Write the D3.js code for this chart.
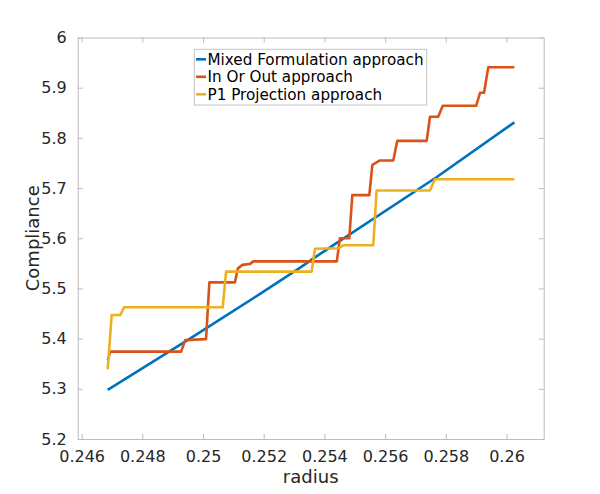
<!DOCTYPE html>
<html>
<head>
<meta charset="utf-8">
<script src="https://cdn.jsdelivr.net/npm/d3@7"></script>
<style>
  html, body { margin: 0; padding: 0; background: #fff; }
  text { font-family: "DejaVu Sans", sans-serif; }
</style>
</head>
<body>
<svg id="chart" width="600" height="494"></svg>
<script>
// ---- data ----
const seriesNames = ["Mixed Formulation approach", "In Or Out approach", "P1 Projection approach"];
const seriesColors = ["#0072BD", "#D95319", "#EDB120"];

const mixedX = [0.24686, 0.24957, 0.25188, 0.25314, 0.25386, 0.25768, 0.26026];
const mixedY = [5.298, 5.400, 5.489, 5.539, 5.569, 5.721, 5.831];

const inOutX = [0.24686, 0.24694, 0.24928, 0.24941, 0.25010, 0.25021, 0.25105, 0.25115, 0.25130, 0.25155, 0.25166,
                0.25441, 0.25451, 0.25482, 0.25492, 0.25548, 0.25558, 0.25583, 0.25627, 0.25640, 0.25737, 0.25748,
                0.25775, 0.25790, 0.25900, 0.25913, 0.25926, 0.25940, 0.26026];
const inOutY = [5.356, 5.374, 5.374, 5.397, 5.399, 5.512, 5.512, 5.540, 5.547, 5.549, 5.554,
                5.554, 5.600, 5.600, 5.686, 5.686, 5.746, 5.755, 5.755, 5.794, 5.794, 5.842,
                5.842, 5.864, 5.864, 5.890, 5.890, 5.9406, 5.9406];

const p1X = [0.24686, 0.24699, 0.24727, 0.24740, 0.25065, 0.25076, 0.25358, 0.25369, 0.25446, 0.25462,
             0.25561, 0.25572, 0.25748, 0.25764, 0.26026];
const p1Y = [5.339, 5.447, 5.447, 5.4625, 5.4625, 5.5335, 5.5335, 5.579, 5.580, 5.586,
             5.586, 5.695, 5.695, 5.7175, 5.7175];

const xTicks = [0.246, 0.248, 0.25, 0.252, 0.254, 0.256, 0.258, 0.26];
const yTicks = [5.2, 5.3, 5.4, 5.5, 5.6, 5.7, 5.8, 5.9, 6];
const xDomain = [0.245871, 0.261226];
const yDomain = [5.2, 6];

// ---- layout ----
const svg = d3.select("#chart");
const L = 77.7, R = 543.7, T = 37.5, B = 439;
const x = d3.scaleLinear().domain(xDomain).range([L, R]);
const y = d3.scaleLinear().domain(yDomain).range([B, T]);
const axisColor = "#bcbcbc";
const textColor = "#262626";
const fmt = d => String(+d.toFixed(4));

svg.append("rect").attr("width", 600).attr("height", 494).attr("fill", "#fff");

// axes with inward ticks
const tickLen = 5;
const gBottom = svg.append("g").attr("transform", `translate(0,${B})`)
  .call(d3.axisBottom(x).tickValues(xTicks).tickFormat(fmt).tickSizeInner(-tickLen).tickSizeOuter(0).tickPadding(12));
const gTop = svg.append("g").attr("transform", `translate(0,${T})`)
  .call(d3.axisTop(x).tickValues(xTicks).tickFormat("").tickSizeInner(-tickLen).tickSizeOuter(0));
const gLeft = svg.append("g").attr("transform", `translate(${L},0)`)
  .call(d3.axisLeft(y).tickValues(yTicks).tickFormat(fmt).tickSizeInner(-tickLen).tickSizeOuter(0).tickPadding(11));
const gRight = svg.append("g").attr("transform", `translate(${R},0)`)
  .call(d3.axisRight(y).tickValues(yTicks).tickFormat("").tickSizeInner(-tickLen).tickSizeOuter(0));

[gBottom, gTop, gLeft, gRight].forEach(g => {
  g.select(".domain").attr("stroke", axisColor).attr("stroke-width", 1);
  g.selectAll(".tick line").attr("stroke", axisColor).attr("stroke-width", 1);
  g.selectAll(".tick text").attr("fill", textColor)
    .style("font-family", "DejaVu Sans").style("font-size", "16px");
});

// lines
const lineGen = d3.line().x(d => x(d[0])).y(d => y(d[1]));
const series = [
  d3.zip(mixedX, mixedY),
  d3.zip(inOutX, inOutY),
  d3.zip(p1X, p1Y)
];
series.forEach((s, i) => {
  svg.append("path").datum(s)
    .attr("d", lineGen)
    .attr("fill", "none")
    .attr("stroke", seriesColors[i])
    .attr("stroke-width", 2.6)
    .attr("stroke-linejoin", "round");
});

// axis labels
svg.append("text").attr("x", (L + R) / 2).attr("y", 483)
  .attr("text-anchor", "middle").attr("fill", textColor)
  .style("font-size", "18px").text("radius");
svg.append("text").attr("transform", `translate(39,${(T + B) / 2}) rotate(-90)`)
  .attr("text-anchor", "middle").attr("fill", textColor)
  .style("font-size", "18px").text("Compliance");

// legend
const lg = svg.append("g");
lg.append("rect").attr("x", 194.3).attr("y", 49.3).attr("width", 232.4).attr("height", 55.7)
  .attr("fill", "#fff").attr("stroke", "#c4c4c4").attr("stroke-width", 1);
const rowY = [59.3, 76.8, 94.3];
seriesNames.forEach((name, i) => {
  lg.append("line").attr("x1", 196).attr("x2", 206).attr("y1", rowY[i]).attr("y2", rowY[i])
    .attr("stroke", seriesColors[i]).attr("stroke-width", 2.6);
  lg.append("text").attr("x", 207.5).attr("y", rowY[i]).attr("dy", "0.36em")
    .attr("fill", "#000").style("font-size", "15.2px").text(name);
});
</script>
</body>
</html>
